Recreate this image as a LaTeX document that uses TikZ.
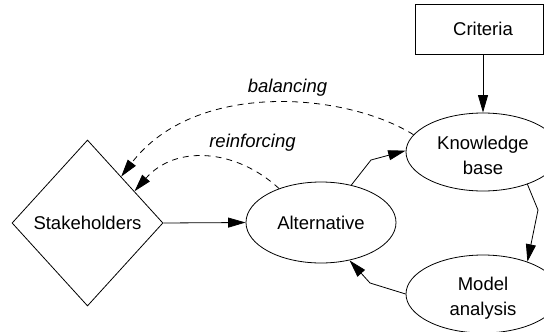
\documentclass[tikz,border=0pt]{standalone}
\usepackage{fontspec}
\setmainfont{Liberation Sans}
\usetikzlibrary{shapes.geometric,arrows.meta}
\begin{document}
\begin{tikzpicture}[x=1pt,y=-1pt,
  line width=0.8pt,
  every node/.style={font=\fontsize{18.5}{25}\selectfont},
  oval/.style={draw, ellipse, inner sep=0pt, align=center},
  arr/.style={-{Triangle[length=17.5pt,width=10pt]}},
  dsh/.style={arr, dash pattern=on 6pt off 5pt},
  lbl/.style={font=\fontsize{18.5}{25}\selectfont\itshape}]
\useasboundingbox (0,0) rectangle (544,332);
\node[draw, diamond, shape aspect=0.91, minimum width=151pt, minimum height=166pt, inner sep=0pt] (st) at (87.5,223) {Stakeholders};
\node[oval, minimum width=150pt, minimum height=81pt] (alt) at (321,222.5) {Alternative};
\node[oval, minimum width=154pt, minimum height=78pt] (kb) at (483,152) {\rule{0pt}{21pt}Knowledge\\base};
\node[oval, minimum width=154pt, minimum height=78pt] (ma) at (483,294) {\rule{0pt}{21pt}Model\\analysis};
\node[draw, minimum width=128pt, minimum height=50pt, inner sep=0pt] (cr) at (479,29) {\hspace*{8pt}Criteria};
\node[lbl] (bal) at (287.5,87.5) {balancing};
\node[lbl] (rei) at (252.5,142.5) {reinforcing};
\draw[arr] (kb.north |- cr.south) -- (kb.north);
\draw[arr] (st.east) -- (alt.west);
\draw[arr] (alt.51) -- (371,160) -- (kb.179);
\draw[arr] (kb.-36) -- (538,210) -- (ma.36);
\draw[arr] (ma.180) -- (370,283) -- (alt.-53);
\draw[dsh] (kb.166) .. controls (345,92) and (195,80) .. (st.54);
\draw[dsh] (alt.141) .. controls (235,148) and (175,145) .. (st.34);
\end{tikzpicture}
\end{document}
